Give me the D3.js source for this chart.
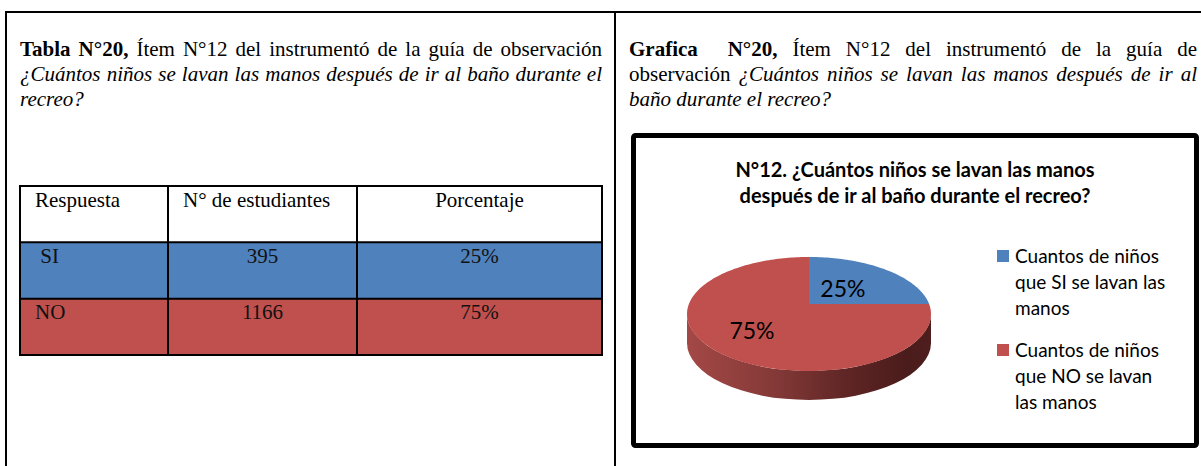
<!DOCTYPE html>
<html>
<head>
<meta charset="utf-8">
<script src="https://cdn.jsdelivr.net/npm/d3@7"></script>
<style>
  body { margin: 0; background: #fff; }
  svg text { white-space: pre; }
</style>
</head>
<body>
<div id="chart"></div>
<script>
// data
const categories = ['SI', 'NO'];
const students = [395, 1166];
const percentLabels = ['25%', '75%'];
const pieValues = [25, 75];
const tableHeaders = ['Respuesta', 'N° de estudiantes', 'Porcentaje'];
const legendLabels = [
  ['Cuantos de niños', 'que SI se lavan las', 'manos'],
  ['Cuantos de niños', 'que NO se lavan', 'las manos']
];
const chartTitle = ['N°12. ¿Cuántos niños se lavan las manos', 'después de ir al baño durante el recreo?'];
const colors = ['#4F81BD', '#C0504D'];

const W = 1201, H = 466;
const serif = '"Liberation Serif", "Times New Roman", serif';
const sans = 'Lato, "Noto Sans", sans-serif';

const svg = d3.select('#chart').append('svg')
  .attr('width', W)
  .attr('height', H);

// page frame
svg.append('line').attr('x1', 5).attr('x2', W).attr('y1', 12).attr('y2', 12)
  .attr('stroke', '#000').attr('stroke-width', 2);
svg.append('line').attr('x1', 6).attr('x2', 6).attr('y1', 11).attr('y2', H)
  .attr('stroke', '#000').attr('stroke-width', 2);
svg.append('line').attr('x1', 615).attr('x2', 615).attr('y1', 11).attr('y2', H)
  .attr('stroke', '#000').attr('stroke-width', 2);

// captions, justified with word-spacing
const captions = [
  { x: 20, w: 582, y: 56, justify: true, parts: [['Tabla N°20,', 'bold', 'normal'], [' Ítem N°12 del instrumentó de la guía de observación', 'normal', 'normal']] },
  { x: 20, w: 582, y: 81, justify: true, parts: [['¿Cuántos niños se lavan las manos después de ir al baño durante el', 'normal', 'italic']] },
  { x: 20, w: 582, y: 106, justify: false, parts: [['recreo?', 'normal', 'italic']] },
  { x: 629, w: 568, y: 56, justify: true, parts: [['Grafica  N°20,', 'bold', 'normal'], [' Ítem N°12 del instrumentó de la guía de', 'normal', 'normal']] },
  { x: 629, w: 568, y: 81, justify: true, parts: [['observación ', 'normal', 'normal'], ['¿Cuántos niños se lavan las manos después de ir al', 'normal', 'italic']] },
  { x: 629, w: 568, y: 106, justify: false, parts: [['baño durante el recreo?', 'normal', 'italic']] }
];

captions.forEach(c => {
  const t = svg.append('text')
    .attr('x', c.x).attr('y', c.y)
    .style('font-family', serif)
    .style('font-size', '21px')
    .attr('fill', '#000');
  t.selectAll('tspan').data(c.parts).enter().append('tspan')
    .style('font-weight', d => d[1])
    .style('font-style', d => d[2])
    .text(d => d[0]);
  if (c.justify) {
    const full = c.parts.map(p => p[0]).join('');
    const spaces = (full.match(/ /g) || []).length;
    const natural = t.node().getComputedTextLength();
    t.style('word-spacing', ((c.w - natural) / spaces) + 'px');
  }
});

// table
const colEdges = [20, 168, 357, 602];
const rows = d3.scaleBand().domain(['header'].concat(categories)).range([186, 355]);
const tableRows = [
  { key: 'header', fill: '#fff', cells: tableHeaders },
  ...categories.map((c, i) => ({ key: c, fill: colors[i], cells: [(c === 'SI' ? ' ' : '') + c, String(students[i]), percentLabels[i]] }))
];

const table = svg.append('g');
table.selectAll('rect.row').data(tableRows).enter().append('rect')
  .attr('class', 'row')
  .attr('x', colEdges[0]).attr('y', d => rows(d.key))
  .attr('width', colEdges[3] - colEdges[0]).attr('height', rows.bandwidth())
  .attr('fill', d => d.fill);

rows.domain().forEach(k => {
  table.append('line').attr('x1', colEdges[0] - 1).attr('x2', colEdges[3] + 1)
    .attr('y1', rows(k)).attr('y2', rows(k)).attr('stroke', '#000').attr('stroke-width', 2);
});
table.append('line').attr('x1', colEdges[0] - 1).attr('x2', colEdges[3] + 1)
  .attr('y1', rows.range()[1]).attr('y2', rows.range()[1]).attr('stroke', '#000').attr('stroke-width', 2);
colEdges.forEach(x => {
  table.append('line').attr('x1', x).attr('x2', x)
    .attr('y1', rows.range()[0]).attr('y2', rows.range()[1]).attr('stroke', '#000').attr('stroke-width', 2);
});

tableRows.forEach(r => {
  r.cells.forEach((txt, j) => {
    const centered = j === 2 || (r.key !== 'header' && j === 1);
    table.append('text')
      .attr('x', centered ? (colEdges[j] + colEdges[j + 1]) / 2 : colEdges[j] + 15)
      .attr('y', rows(r.key) + 20.5)
      .attr('text-anchor', centered ? 'middle' : 'start')
      .style('font-family', serif)
      .style('font-size', '21px')
      .attr('fill', r.key === 'header' ? '#000' : '#111')
      .text(txt);
  });
});

// chart box
svg.append('rect')
  .attr('x', 633.5).attr('y', 135.5)
  .attr('width', 563).attr('height', 310)
  .attr('rx', 2)
  .attr('fill', '#fff').attr('stroke', '#000').attr('stroke-width', 5);

svg.append('g').selectAll('text').data(chartTitle).enter().append('text')
  .attr('x', 915).attr('y', (d, i) => 177 + i * 26)
  .attr('text-anchor', 'middle')
  .style('font-family', sans).style('font-weight', 'bold').style('font-size', '20px')
  .attr('fill', '#000')
  .text(d => d);

// 3d pie
const cx = 809, cy = 314, rx = 122, ry = 57, depth = 29, persp = -0.175;
const proj = (r, ang) => {
  const u = r * Math.sin(ang), v = -r * Math.cos(ang);
  const k = 1 + persp * v;
  return [cx + rx * u * Math.sqrt(1 - persp * persp) / k, cy + ry * (v + persp) / k];
};

const defs = svg.append('defs');
const grad = defs.append('linearGradient').attr('id', 'side')
  .attr('gradientUnits', 'userSpaceOnUse')
  .attr('x1', cx - rx).attr('x2', cx + rx).attr('y1', 0).attr('y2', 0);
grad.selectAll('stop').data([
  [0, '#a34846'], [0.35, '#853a38'], [0.65, '#5f2625'], [0.9, '#4a1c1b'], [1, '#4d1e1d']
]).enter().append('stop')
  .attr('offset', d => d[0]).attr('stop-color', d => d[1]);

const pie = d3.pie().sort(null).value(d => d);
const arcs = pie(pieValues);

const pieG = svg.append('g');
pieG.append('path')
  .attr('d', `M${cx - rx},${cy} A${rx},${ry} 0 0 0 ${cx + rx},${cy} L${cx + rx},${cy + depth} A${rx},${ry} 0 0 1 ${cx - rx},${cy + depth} Z`)
  .attr('fill', 'url(#side)');

const line = d3.line();
pieG.selectAll('path.slice').data(arcs).enter().append('path')
  .attr('class', 'slice')
  .attr('d', d => {
    const n = Math.max(8, Math.ceil((d.endAngle - d.startAngle) * 40));
    const pts = [proj(0, 0)];
    d3.range(n + 1).forEach(i => pts.push(proj(1, d.startAngle + (d.endAngle - d.startAngle) * i / n)));
    return line(pts) + 'Z';
  })
  .attr('fill', (d, i) => colors[i]);

const total = d3.sum(pieValues);
pieG.selectAll('text').data(arcs).enter().append('text')
  .attr('transform', d => {
    const r = d.value / total < 0.5 ? 0.42 : 0.62;
    const p = proj(r, (d.startAngle + d.endAngle) / 2);
    return `translate(${p[0]},${p[1]})`;
  })
  .attr('dy', '0.36em')
  .attr('text-anchor', 'middle')
  .style('font-family', sans).style('font-size', '23px')
  .attr('fill', '#000')
  .text((d, i) => percentLabels[i]);

// legend
const legend = svg.append('g').selectAll('g').data(legendLabels).enter().append('g')
  .attr('transform', (d, i) => `translate(997,${250 + i * 94})`);
legend.append('rect').attr('width', 12).attr('height', 12)
  .attr('fill', (d, i) => colors[i]);
legend.selectAll('text').data(d => d).enter().append('text')
  .attr('x', 18).attr('y', (d, i) => 13 + i * 26)
  .style('font-family', sans).style('font-size', '19px')
  .attr('fill', '#000')
  .text(d => d);
</script>
</body>
</html>
